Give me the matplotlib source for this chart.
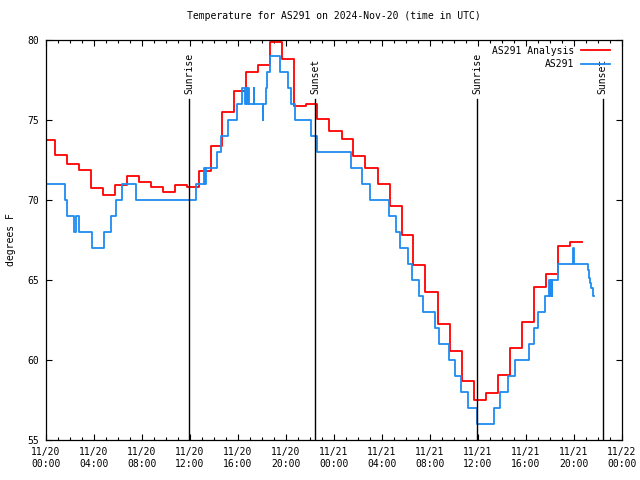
import numpy as np
import pandas as pd
import matplotlib
matplotlib.use("Agg")
import matplotlib.pyplot as plt
import matplotlib.dates as mdates

START = pd.Timestamp("2024-11-20 00:00")

# analysis (hourly step), times in hours after START
red_t = [0, 0.75, 1.72, 2.72, 3.72, 4.72, 5.75, 6.75, 7.72, 8.72, 9.72, 10.72,
         11.72, 12.72, 13.72, 14.67, 15.7, 16.67, 17.67, 18.67, 19.67, 20.67,
         21.67, 22.6, 23.6, 24.67, 25.6, 26.6, 27.64, 28.64, 29.64, 30.6, 31.6,
         32.64, 33.67, 34.67, 35.64, 36.64, 37.64, 38.64, 39.64, 40.64, 41.64,
         42.64, 43.67]
red_end = 44.67
red_v = [73.73, 72.79, 72.23, 71.85, 70.73, 70.29, 70.92, 71.48, 71.10, 70.81,
         70.48, 70.92, 70.79, 71.79, 73.36, 75.50, 76.79, 77.98, 78.46, 79.85,
         78.83, 75.85, 75.98, 75.04, 74.31, 73.81, 72.73, 71.98, 70.98, 69.65,
         67.79, 65.94, 64.23, 62.23, 60.54, 58.69, 57.52, 57.92, 59.04, 60.75,
         62.40, 64.54, 65.38, 67.13, 67.35]

# observations (step changes)
blue_t = [0, 1.61, 1.72, 2.33, 2.5, 2.78, 3.86, 4.8, 5.44, 5.86, 6.36, 7.53,
          12.54, 13.2, 13.28, 13.36, 14.25, 14.56, 15.19, 15.89, 16.3, 16.58,
          16.66, 16.75, 16.83, 16.92, 17.3, 17.36, 18.06, 18.11, 18.3, 18.45,
          18.67, 19.5, 20.2, 20.39, 20.75, 22.05, 22.6, 25.42, 26.3, 26.97,
          28.55, 29.14, 29.53, 30.14, 30.5, 31.06, 31.4, 32.42, 32.75, 33.56,
          34.08, 34.61, 35.19, 35.94, 37.32, 37.82, 38.47, 39.06, 40.25, 40.7,
          41.0, 41.6, 41.89, 41.97, 42.05, 42.13, 42.2, 42.68, 43.9, 43.97,
          45.2, 45.28, 45.36, 45.45, 45.55]
blue_end = 45.69
blue_v = [71, 70, 69, 68, 69, 68, 67, 68, 69, 70, 71, 70,
          71, 72, 71, 72, 73, 74, 75, 76, 77, 76,
          77, 76, 77, 76, 77, 76, 75, 76, 77, 78,
          79, 78, 77, 76, 75, 74, 73, 72, 71, 70,
          69, 68, 67, 66, 65, 64, 63, 62, 61, 60,
          59, 58, 57, 56, 57, 58, 59, 60, 61, 62,
          63, 64, 65, 64, 65, 64, 65, 66, 67, 66,
          65.6, 65.1, 64.8, 64.5, 64.0]

sun_t = [11.95, 22.44, 35.94, 46.39]
sun_lbl = ["Sunrise", "Sunset", "Sunrise", "Sunset"]


def to_dt(hours):
    return START + pd.to_timedelta(np.asarray(hours, dtype=float), unit="h")


plt.rcParams["font.family"] = ["DejaVu Sans Mono", "DejaVu Sans"]
plt.rcParams["font.size"] = 7

fig = plt.figure(figsize=(6.4, 4.8), dpi=100)
ax = fig.add_axes([46 / 640, 40 / 480, 576 / 640, 400 / 480])

RED, BLUE = "#ff0000", "#1e8cf0"
ax.step(to_dt(red_t + [red_end]), red_v + [red_v[-1]], where="post",
        color=RED, lw=1.3, label="AS291 Analysis")
ax.step(to_dt(blue_t + [blue_end]), blue_v + [blue_v[-1]], where="post",
        color=BLUE, lw=1.3, label="AS291")

for t, lbl in zip(sun_t, sun_lbl):
    d = to_dt([t])[0]
    ax.axvline(d, ymin=0, ymax=0.8525, color="black", lw=1.0)
    ax.text(d, 0.865, lbl, transform=ax.get_xaxis_transform(), rotation=90,
            ha="center", va="bottom", fontsize=7)

ax.set_xlim(START, START + pd.Timedelta(hours=48))
ax.set_ylim(55, 80)
ax.set_yticks([55, 60, 65, 70, 75, 80])
ax.xaxis.set_major_locator(mdates.HourLocator(byhour=range(0, 24, 4)))
ax.xaxis.set_minor_locator(mdates.HourLocator())
ax.xaxis.set_major_formatter(mdates.DateFormatter("%m/%d\n%H:%M"))
ax.tick_params(which="major", direction="in", length=4.5, width=0.8,
               top=True, right=True, labelsize=7, pad=5)
ax.tick_params(which="minor", direction="in", length=2.5, width=0.8,
               top=True, right=True)
for s in ax.spines.values():
    s.set_linewidth(0.9)

ax.set_ylabel("degrees F", fontsize=7, labelpad=8)
ax.set_title("Temperature for AS291 on 2024-Nov-20 (time in UTC)",
             fontsize=7, pad=15)

ax.legend(loc="upper right", bbox_to_anchor=(0.991, 1.003), frameon=False,
          markerfirst=False, handlelength=3.0, handletextpad=0.7,
          labelspacing=0.4, borderaxespad=0.4, borderpad=0.3, fontsize=7)

fig.savefig("out.png", dpi=100)
